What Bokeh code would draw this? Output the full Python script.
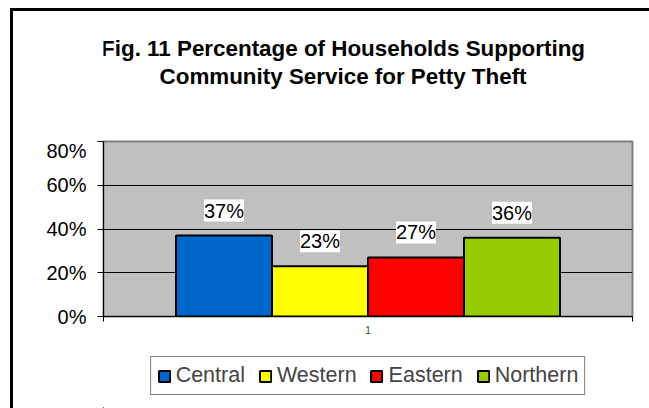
from bokeh.plotting import figure
from bokeh.layouts import column
from bokeh.models import (Range1d, FixedTicker, NumeralTickFormatter, ColumnDataSource,
                          LabelSet, Label, Legend, LegendItem)
from bokeh.core.properties import value
from bokeh.embed import file_html
from bokeh.resources import INLINE

title_lines = ["Fig. 11 Percentage of Households Supporting",
               "Community Service for Petty Theft"]
regions = ["Central", "Western", "Eastern", "Northern"]
values = [0.37, 0.23, 0.27, 0.36]
colors = ["#0066CC", "#FFFF00", "#FF0000", "#99CC00"]
y_ticks = [0.0, 0.2, 0.4, 0.6, 0.8]
category = 1

FONT = "Liberation Sans"
bar_w = 0.1815
n = len(regions)
xs = [category + (i - (n - 1) / 2) * bar_w for i in range(n)]

# layout (pixels)
W = 636
BL, BR = 90, 17
TITLE_H = 128
MAIN_BT, FRAME_H, MAIN_BB = 2, 175, 34
LEG_H = 58


def blank(fig):
    fig.grid.grid_line_color = None
    fig.outline_line_color = None
    fig.background_fill_color = "white"
    fig.border_fill_color = "white"


# ---- title strip ----
pt = figure(width=W, height=TITLE_H, output_backend="svg", toolbar_location=None,
            x_range=Range1d(0, W), y_range=Range1d(TITLE_H, 0),
            x_axis_location=None, y_axis_location=None, min_border=0)
blank(pt)
for line, cy in zip(title_lines, [37, 65]):
    pt.add_layout(Label(x=288, y=cy, text=line, text_align="center",
                        text_baseline="middle", text_font=FONT, text_font_size="22.4px",
                        text_font_style="bold", text_color="black"))

# ---- main chart ----
p = figure(width=W, height=MAIN_BT + FRAME_H + MAIN_BB, output_backend="svg",
           toolbar_location=None,
           x_range=Range1d(category - 0.5, category + 0.5),
           y_range=Range1d(y_ticks[0], y_ticks[-1]),
           min_border_left=BL, min_border_right=BR,
           min_border_top=MAIN_BT, min_border_bottom=MAIN_BB)
p.background_fill_color = "#C0C0C0"
p.border_fill_color = "white"
p.outline_line_color = "#808080"
p.outline_line_width = 2

p.yaxis.ticker = FixedTicker(ticks=y_ticks)
p.yaxis.formatter = NumeralTickFormatter(format="0%")
p.yaxis.major_label_text_font = FONT
p.yaxis.major_label_text_font_size = "20px"
p.yaxis.major_label_text_color = "black"
p.yaxis.major_tick_out = 6
p.yaxis.major_tick_in = 0
p.yaxis.minor_tick_line_color = None
p.yaxis.major_label_standoff = 11
p.yaxis.axis_line_color = "black"
p.yaxis.axis_line_width = 1

p.xaxis.ticker = FixedTicker(ticks=[category], minor_ticks=[category - 0.5, category + 0.5])
p.xaxis.major_tick_line_color = None
p.xaxis.major_tick_out = 0
p.xaxis.major_tick_in = 0
p.xaxis.minor_tick_out = 5
p.xaxis.minor_tick_in = 0
p.xaxis.minor_tick_line_color = "black"
p.xaxis.major_label_text_font = FONT
p.xaxis.major_label_text_font_size = "10px"
p.xaxis.major_label_text_color = "#404040"
p.xaxis.major_label_standoff = 4
p.xaxis.axis_line_color = "black"
p.xaxis.axis_line_width = 1

p.xgrid.grid_line_color = None
p.ygrid.grid_line_color = "black"
p.ygrid.grid_line_width = 1

for x, v, c in zip(xs, values, colors):
    p.vbar(x=[x], top=[v], bottom=0, width=bar_w, fill_color=c,
           line_color="black", line_width=2)

src = ColumnDataSource(dict(x=xs, y=values, t=[f"{round(v*100)}%" for v in values]))
p.add_layout(LabelSet(x="x", y="y", text="t", source=src, text_align="center",
                      text_baseline="bottom", y_offset=14, text_font=value(FONT),
                      text_font_size="20px", text_color="black",
                      background_fill_color="white"))

# ---- legend strip (same series, drawn out of view; only the legend shows) ----
pl = figure(width=W, height=LEG_H, output_backend="svg", toolbar_location=None,
            x_range=Range1d(100, 101), y_range=Range1d(100, 101),
            x_axis_location=None, y_axis_location=None,
            min_border_left=BL, min_border_right=BR, min_border_top=0, min_border_bottom=0)
blank(pl)
items = []
for x, v, c, r in zip(xs, values, colors, regions):
    rend = pl.vbar(x=[x], top=[v], bottom=0, width=bar_w, fill_color=c,
                   line_color="black", line_width=2)
    items.append(LegendItem(label=r, renderers=[rend]))
pl.add_layout(Legend(items=items, orientation="horizontal", location="top_center",
                     label_text_font=FONT, label_text_font_size="21.5px",
                     glyph_width=14, glyph_height=14, label_standoff=5, spacing=13,
                     padding=6, border_line_color="black", border_line_width=1,
                     margin=6))

layout = column(pt, p, pl, spacing=0,
                styles={"margin-left": "10px", "margin-top": "8px",
                        "border-left": "3px solid black", "border-top": "3px solid black"})

open("out.html", "w").write(file_html(layout, INLINE))
